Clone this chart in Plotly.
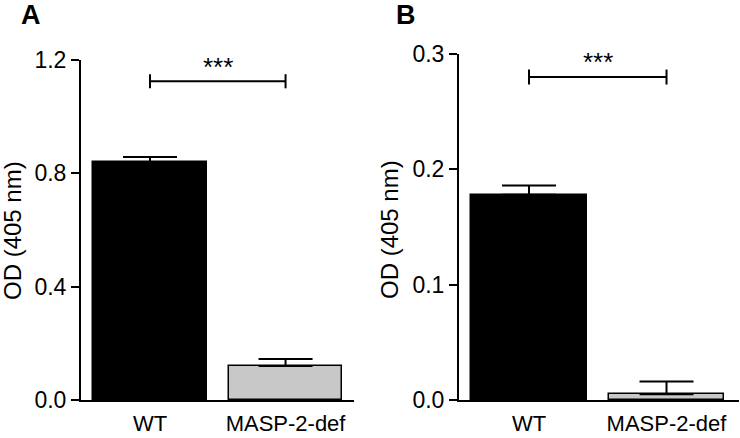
import plotly.graph_objects as go

categories = ["WT", "MASP-2-def"]
values_a = [0.84, 0.12]
err_a = [0.018, 0.025]
values_b = [0.178, 0.005]
err_b = [0.008, 0.011]
yticks_a = [0.0, 0.4, 0.8, 1.2]
yticks_b = [0.0, 0.1, 0.2, 0.3]
sig_label = "***"
y_title = "OD (405 nm)"
bar_colors = ["#000000", "#c8c8c8"]

W, H = 740, 438
FONT = "Liberation Sans, Arial, sans-serif"
FS = 23

def px2fx(p):
    return p / W

def py2fy(p):
    return (H - p) / H

fig = go.Figure()

for (vals, errs, xa, ya) in [(values_a, err_a, "x", "y"), (values_b, err_b, "x2", "y2")]:
    fig.add_trace(go.Bar(
        x=categories, y=vals, xaxis=xa, yaxis=ya, width=0.84,
        marker=dict(color=bar_colors, line=dict(color="black", width=1.5)),
        error_y=dict(type="data", array=errs, arrayminus=[0, 0], symmetric=False,
                     color="black", thickness=2, width=27),
        showlegend=False,
    ))

# significance brackets
for (xa, ya, by, bh, sy) in [("x", "y", 1.125, 0.025, 1.175), ("x2", "y2", 0.280, 0.0065, 0.293)]:
    fig.add_trace(go.Scatter(
        x=[categories[0], categories[0], None, categories[0], categories[1], None, categories[1], categories[1]],
        y=[by - bh, by + bh, None, by, by, None, by - bh, by + bh],
        mode="lines", line=dict(color="black", width=2), xaxis=xa, yaxis=ya,
        showlegend=False, hoverinfo="skip",
    ))
    fig.add_annotation(x=0.5, y=sy, xref=xa, yref=ya, text=sig_label, showarrow=False,
                       xanchor="center", yanchor="middle",
                       font=dict(size=26, color="black", family=FONT))

common_x = dict(type="category", showline=True, linecolor="black", linewidth=2,
                ticks="", showgrid=False, zeroline=False, automargin=False,
                tickfont=dict(size=22, color="black", family=FONT), ticklabelstandoff=3)
common_y = dict(showline=True, linecolor="black", linewidth=2, ticks="outside",
                ticklen=8, tickwidth=2, tickcolor="black", showgrid=False, zeroline=False,
                automargin=False, tickfont=dict(size=FS, color="black", family=FONT))

fig.update_layout(
    width=W, height=H, margin=dict(l=0, r=0, t=0, b=0),
    paper_bgcolor="white", plot_bgcolor="white", bargap=0,
    xaxis=dict(common_x, domain=[px2fx(81), px2fx(354)], range=[-0.509, 1.505], anchor="y"),
    yaxis=dict(common_y, domain=[py2fy(400), py2fy(60)], range=[0, 1.2],
               tickvals=yticks_a, ticktext=[f"{v:.1f}" for v in yticks_a], anchor="x"),
    xaxis2=dict(common_x, domain=[px2fx(459), px2fx(739)], range=[-0.509, 1.527], anchor="y2"),
    yaxis2=dict(common_y, domain=[py2fy(400), py2fy(54)], range=[0, 0.3],
                tickvals=yticks_b, ticktext=[f"{v:.1f}" for v in yticks_b], anchor="x2"),
)

for (tx, ty) in [(12, 231), (390, 229)]:
    fig.add_annotation(x=px2fx(tx), y=py2fy(ty), xref="paper", yref="paper", text=y_title,
                       textangle=-90, showarrow=False, xanchor="center", yanchor="middle",
                       font=dict(size=24, color="black", family=FONT))

fig.add_annotation(x=px2fx(31), y=py2fy(15), xref="paper", yref="paper", text="<b>A</b>",
                   showarrow=False, xanchor="center", yanchor="middle",
                   font=dict(size=27, color="black", family=FONT))
fig.add_annotation(x=px2fx(406), y=py2fy(15), xref="paper", yref="paper", text="<b>B</b>",
                   showarrow=False, xanchor="center", yanchor="middle",
                   font=dict(size=27, color="black", family=FONT))

fig.write_html("out.html", config={"displayModeBar": False},
               post_script="document.body.style.margin='0';")
